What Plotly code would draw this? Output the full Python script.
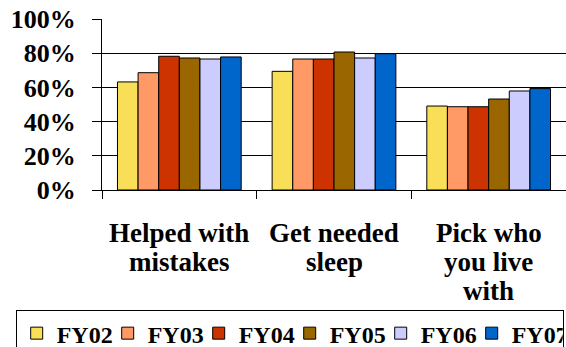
import plotly.graph_objects as go

# Survey items (as printed, one entry per text line) and yearly results
category_lines = [["Helped with", "mistakes"], ["Get needed", "sleep"], ["Pick who", "you live", "with"]]
categories = [" ".join(lines) for lines in category_lines]
years = ["FY02", "FY03", "FY04", "FY05", "FY06", "FY07"]
fy02 = [0.632, 0.694, 0.491]
fy03 = [0.686, 0.766, 0.487]
fy04 = [0.782, 0.766, 0.487]
fy05 = [0.772, 0.807, 0.532]
fy06 = [0.766, 0.772, 0.579]
fy07 = [0.778, 0.797, 0.593]
series = [fy02, fy03, fy04, fy05, fy06, fy07]
colors = ["#F9DF57", "#FF9966", "#CC3300", "#996600", "#CCCCFF", "#0066CC"]
tick_vals = [0, 0.2, 0.4, 0.6, 0.8, 1.0]

FONT = "Liberation Serif"
LINE_GAP = 29      # px between stacked category label lines
FIRST_LINE = 42.5  # px from the x axis to the first label line

fig = go.Figure()
for name, vals, col in zip(years, series, colors):
    fig.add_trace(go.Bar(
        x=categories, y=vals, name=name,
        marker=dict(color=col, line=dict(color="black", width=1)),
    ))

# Category labels with tight line spacing, anchored to each category
for cat, lines in zip(categories, category_lines):
    for i, line in enumerate(lines):
        fig.add_annotation(
            x=cat, y=0, xref="x", yref="y", text=line, showarrow=False,
            xanchor="center", yanchor="middle",
            yshift=-(FIRST_LINE + i * LINE_GAP),
            font=dict(family=FONT, size=27, color="black", weight="bold"),
        )

fig.update_layout(
    width=566, height=347,
    margin=dict(l=102, r=0, t=19, b=157, autoexpand=False),
    barmode="group", bargap=0.2, bargroupgap=0,
    plot_bgcolor="white", paper_bgcolor="white",
    showlegend=True,
    legend=dict(
        orientation="h", x=-0.186, y=-0.702, xanchor="left", yanchor="top",
        bordercolor="black", borderwidth=1, itemwidth=30,
        entrywidth=46, entrywidthmode="pixels",
        font=dict(family=FONT, size=24, color="black", weight="bold"),
        traceorder="normal",
    ),
    xaxis=dict(
        showline=True, linecolor="black", linewidth=1,
        ticks="outside", tickson="boundaries", ticklen=8, tickcolor="black",
        showticklabels=False,
    ),
    yaxis=dict(
        range=[0, 1], tickvals=tick_vals, tickformat=".0%",
        showline=True, linecolor="black", linewidth=1,
        showgrid=True, gridcolor="black", gridwidth=1,
        ticks="outside", ticklen=9, tickcolor="black",
        tickfont=dict(family=FONT, size=26, color="black", weight="bold"),
        ticklabelstandoff=11, zeroline=False,
    ),
)

fig.write_html("out.html")
